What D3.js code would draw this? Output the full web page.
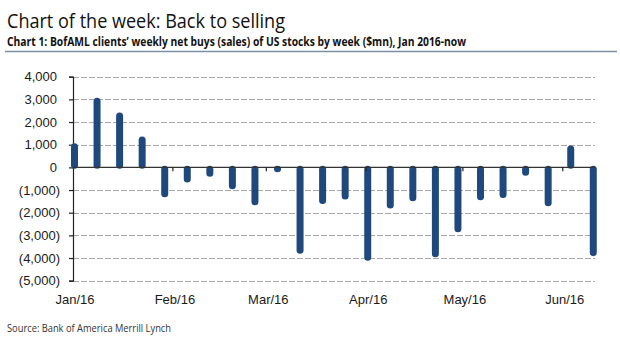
<!DOCTYPE html>
<html>
<head>
<meta charset="utf-8">
<script src="https://cdn.jsdelivr.net/npm/d3@7"></script>
<style>
  html, body { margin: 0; padding: 0; background: #fff; }
  svg { display: block; }
</style>
</head>
<body>
<div id="chart"></div>
<script>
// weekly dates (Fridays) and net buys in $mn
const weeks = ["2016-01-01", "2016-01-08", "2016-01-15", "2016-01-22", "2016-01-29",
               "2016-02-05", "2016-02-12", "2016-02-19", "2016-02-26",
               "2016-03-04", "2016-03-11", "2016-03-18", "2016-03-25",
               "2016-04-01", "2016-04-08", "2016-04-15", "2016-04-22", "2016-04-29",
               "2016-05-06", "2016-05-13", "2016-05-20", "2016-05-27",
               "2016-06-03", "2016-06-10"];
const netBuys = [1000, 3000, 2350, 1300, -1250, -600, -350, -900, -1600,
                 -150, -3750, -1550, -1350, -4050, -1750, -1430, -3900, -2800,
                 -1380, -1280, -300, -1650, 900, -3850];
const yTicks = [4000, 3000, 2000, 1000, 0, -1000, -2000, -3000, -4000, -5000];
const monthStarts = ["2016-01-01", "2016-02-01", "2016-03-01", "2016-04-01", "2016-05-01", "2016-06-01"];
const monthLabels = ["Jan/16", "Feb/16", "Mar/16", "Apr/16", "May/16", "Jun/16"];

const title = "Chart of the week: Back to selling";
const subtitle = "Chart 1: BofAML clients\u2019 weekly net buys (sales) of US stocks by week ($mn), Jan 2016-now";
const source = "Source: Bank of America Merrill Lynch";

const W = 620, H = 340;
const parse = d3.utcParse("%Y-%m-%d");
const data = weeks.map((d, i) => ({ date: parse(d), value: netBuys[i] }));

const svg = d3.select("#chart").append("svg")
    .attr("width", W)
    .attr("height", H);

// ---------- headings ----------
svg.append("text")
   .attr("x", 7).attr("y", 28)
   .attr("font-family", "'Open Sans', 'Noto Sans', sans-serif")
   .attr("font-size", 20)
   .attr("fill", "#111")
   .attr("textLength", 278)
   .attr("lengthAdjust", "spacingAndGlyphs")
   .text(title);

svg.append("text")
   .attr("x", 7).attr("y", 46)
   .attr("font-family", "'Liberation Sans Narrow', 'Open Sans', sans-serif")
   .attr("font-size", 12.5)
   .attr("font-weight", "bold")
   .attr("fill", "#111")
   .attr("textLength", 459)
   .attr("lengthAdjust", "spacingAndGlyphs")
   .text(subtitle);

svg.append("line")
   .attr("x1", 5).attr("x2", 617)
   .attr("y1", 51.5).attr("y2", 51.5)
   .attr("stroke", "#7d8ea5")
   .attr("stroke-width", 1.5);

svg.append("text")
   .attr("x", 7).attr("y", 332)
   .attr("font-family", "'Open Sans', 'Noto Sans', sans-serif")
   .attr("font-size", 10)
   .attr("fill", "#333")
   .attr("textLength", 164)
   .attr("lengthAdjust", "spacingAndGlyphs")
   .text(source);

// ---------- scales ----------
const x = d3.scaleUtc()
    .domain([parse("2016-01-01"), parse("2016-06-11")])
    .range([73, 595]);

const y = d3.scaleLinear()
    .domain([-5000, 4000])
    .range([280.7, 76.7]);

const fmt = v => v < 0 ? "(" + d3.format(",")(-v) + ")" : d3.format(",")(v);

// ---------- grid ----------
svg.append("g")
   .selectAll("line")
   .data(yTicks.filter(t => t !== 0))
   .join("line")
   .attr("x1", x.range()[0]).attr("x2", x.range()[1])
   .attr("y1", d => Math.round(y(d)) + 0.5)
   .attr("y2", d => Math.round(y(d)) + 0.5)
   .attr("stroke", "#a8a8a8")
   .attr("stroke-width", 1)
   .attr("stroke-dasharray", "6,2");

// ---------- y axis ----------
const yAxis = svg.append("g")
   .attr("transform", "translate(73,0)")
   .call(d3.axisLeft(y).tickValues(yTicks).tickSize(4).tickPadding(9).tickFormat(fmt));

yAxis.select(".domain").attr("stroke", "#222").attr("stroke-width", 1.2);
yAxis.selectAll(".tick line").attr("stroke", "#222").attr("stroke-width", 1.2);
yAxis.selectAll(".tick text")
     .attr("font-family", "'Liberation Sans', Arial, sans-serif")
     .attr("font-size", 13)
     .attr("fill", "#1a1a1a")
     .attr("dx", d => d < 0 ? 0 : -3);

// ---------- bars ----------
const bw = 7;
svg.append("g")
   .selectAll("rect")
   .data(data)
   .join("rect")
   .attr("x", d => x(d.date) - 2)
   .attr("y", d => Math.min(y(d.value), y(0)) - 1.5)
   .attr("width", bw)
   .attr("height", d => Math.abs(y(d.value) - y(0)) + 3)
   .attr("rx", bw / 2)
   .attr("fill", "#1f497d");

// ---------- zero line and month ticks ----------
svg.append("line")
   .attr("x1", x.range()[0]).attr("x2", x.range()[1])
   .attr("y1", y(0)).attr("y2", y(0))
   .attr("stroke", "#333")
   .attr("stroke-width", 1.2);

svg.append("g")
   .selectAll("line")
   .data(monthStarts.slice(1))
   .join("line")
   .attr("x1", d => x(parse(d))).attr("x2", d => x(parse(d)))
   .attr("y1", y(0)).attr("y2", y(0) + 4)
   .attr("stroke", "#222")
   .attr("stroke-width", 1.2);

// ---------- month labels ----------
svg.append("g")
   .selectAll("text")
   .data(monthStarts)
   .join("text")
   .attr("x", d => x(parse(d)) + 2)
   .attr("y", 304)
   .attr("text-anchor", "middle")
   .attr("font-family", "'Liberation Sans', Arial, sans-serif")
   .attr("font-size", 13)
   .attr("fill", "#1a1a1a")
   .text((d, i) => monthLabels[i]);
</script>
</body>
</html>
